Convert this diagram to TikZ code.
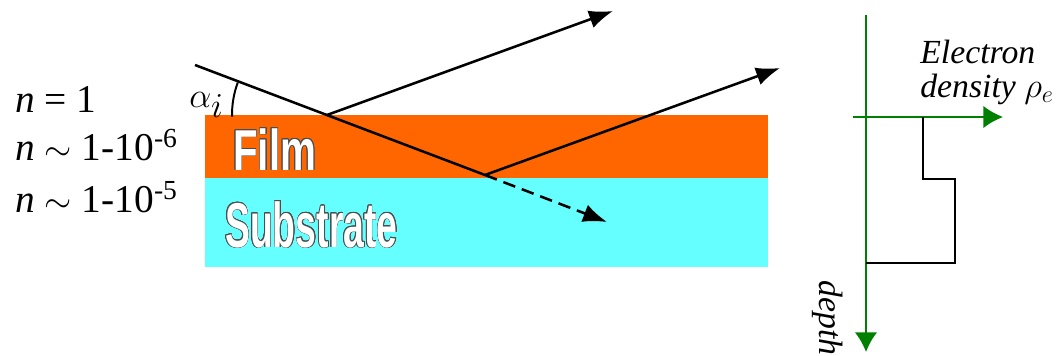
\documentclass[tikz,border=0pt]{standalone}
\usepackage{fontspec}
\setmainfont{Liberation Serif}
\newfontfamily\layerfont{Liberation Sans}
\newfontfamily\indexfont{Liberation Serif}
\usepackage{contour}
\usepackage{tikz}
\usetikzlibrary{arrows.meta,calc}
\definecolor{filmorange}{HTML}{FF6600}
\definecolor{subcyan}{HTML}{66FFFF}
\definecolor{axisgreen}{HTML}{008000}
\contourlength{0.7pt}

\begin{document}
\begin{tikzpicture}[
    x=0.025cm, y=0.025cm,
    ray/.style={line width=1.8pt, -{Latex[length=17pt,width=13pt]}},
    axis/.style={line width=1.4pt, axisgreen, -{Latex[length=14pt,width=16pt]}},
    profile/.style={line width=1.5pt},
    index/.style={anchor=base west, inner sep=0, font=\indexfont\fontsize{28}{30}\selectfont},
    axislabel/.style={anchor=base west, inner sep=0, font=\indexfont\itshape\fontsize{24}{26}\selectfont},
    layertext/.style={anchor=base west, inner sep=0, text=white}
]
    \useasboundingbox (0,0) rectangle (1057,-355);

    % Layers
    \fill[filmorange] (205,-115) rectangle (768,-178);
    \fill[subcyan] (205,-178) rectangle (768,-267);
    \node[layertext, font=\layerfont\bfseries\fontsize{41}{41}\selectfont] (film) at (233,-170)
        {\scalebox{0.7}[1]{\contour{black!70}{Film}}};
    \node[layertext, font=\layerfont\bfseries\fontsize{45}{45}\selectfont] (substrate) at (225,-247)
        {\scalebox{0.59}[1]{\contour{black!70}{Substrate}}};

    % Refractive indices
    \node[index] (n0) at (15,-112) {\textit{n} = 1};
    \node[index] (n1) at (15,-160) {\textit{n} $\sim$ 1-10\textsuperscript{-6}};
    \node[index] (n2) at (15,-212) {\textit{n} $\sim$ 1-10\textsuperscript{-5}};

    % Rays
    \coordinate (src) at (195,-65);
    \coordinate (hit1) at (327,-115);
    \coordinate (hit2) at (485,-175);
    \coordinate (out1) at (613,-11);
    \coordinate (out2) at (780,-68);
    \coordinate (trans) at (607,-222);
    \draw[line width=1.8pt] (src) -- (hit2);
    \draw[ray] (hit1) -- (out1);
    \draw[ray] (hit2) -- (out2);
    \draw[ray, dash pattern=on 9pt off 5pt] (hit2) -- (trans);

    % Incidence angle
    \draw[line width=1.4pt] (hit1) ++(160:95) arc[start angle=160, end angle=181, radius=95];
    \node[index, font=\fontsize{34}{36}\selectfont] (alpha) at (189,-107) {$\alpha_i$};

    % Density profile
    \coordinate (vtop) at (866,-15);
    \coordinate (vbot) at (866,-352);
    \coordinate (hleft) at (853,-117);
    \coordinate (hright) at (1003,-117);
    \draw[axis] (vtop) -- (vbot);
    \draw[axis] (hleft) -- (hright);
    \coordinate (p0) at (923,-117);
    \coordinate (p1) at (955,-179);
    \coordinate (p2) at (866,-263);
    \draw[profile] (p0) |- (p1) |- (p2);

    \node[axislabel] (elec) at (920,-63) {Electron};
    \node[axislabel] (dens) at (920,-97) {density $\rho_e$};
    \node[axislabel, rotate=-90] (depth) at (819,-280) {depth};
\end{tikzpicture}
\end{document}
